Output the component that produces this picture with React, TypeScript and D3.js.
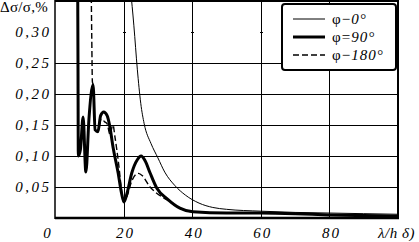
import React, { useEffect, useRef } from "react";
import * as d3 from "d3";

// x = λ/(h δ), y = Δσ/σ, %
const phi0X = [22, 23, 24, 25, 26, 28, 30, 32, 35, 38, 42, 46, 50, 60, 70, 80, 90, 100];
const phi0Y = [0.37, 0.31, 0.24, 0.185, 0.152, 0.12, 0.097, 0.074, 0.052, 0.037, 0.024, 0.017, 0.014, 0.011, 0.009, 0.008, 0.007, 0.006];

const phi90X = [6.6, 6.7, 6.8, 7.4, 8.2, 9.0, 9.9, 11.1, 11.7, 12.5, 13.3, 14.2, 15.2, 16.0, 16.9, 18.4, 19.4, 20.1, 21, 22.4, 24, 25.1, 26.3, 27.7, 29.7, 32.7, 36.4, 40.2, 50, 60, 70, 80, 90, 100];
const phi90Y = [0.4, 0.25, 0.1, 0.11, 0.163, 0.074, 0.16, 0.215, 0.142, 0.139, 0.165, 0.171, 0.165, 0.147, 0.115, 0.073, 0.04, 0.026, 0.04, 0.073, 0.094, 0.1, 0.092, 0.073, 0.048, 0.031, 0.016, 0.01, 0.008, 0.008, 0.007, 0.005, 0.004, 0.003];

const phi180X = [10.5, 10.7, 10.9, 11.1, 11.7, 12.5, 13.5, 14.5, 15.2, 16.0, 16.9, 17.5, 18.6, 19.4, 20.1, 21, 22.4, 24.3, 25.5, 27.7, 29.2, 32.7, 36.4, 40.2, 50, 60, 70, 80, 90, 100];
const phi180Y = [0.4, 0.3, 0.22, 0.215, 0.142, 0.139, 0.16, 0.155, 0.152, 0.135, 0.15, 0.13, 0.085, 0.045, 0.027, 0.035, 0.06, 0.072, 0.068, 0.05, 0.042, 0.029, 0.016, 0.01, 0.008, 0.008, 0.007, 0.005, 0.004, 0.003];

const xTicks = [0, 20, 40, 60, 80];
const yTicks = [0.05, 0.1, 0.15, 0.2, 0.25, 0.3];
const yTickLabels = ["0,05", "0,10", "0,15", "0,20", "0,25", "0,30"];
const legendLabels = ["φ−0°", "φ=90°", "φ−180°"];

const W = 419;
const H = 242;

export default function App() {
  const svgRef = useRef<SVGSVGElement>(null);

  useEffect(() => {
    if (!svgRef.current) return;
    const svg = d3.select(svgRef.current);
    svg.selectAll("*").remove();

    const left = 55, right = 398, top = 1, bottom = 218;
    const x = d3.scaleLinear().domain([0, 100]).range([left, right]);
    const y = d3.scaleLinear().domain([0, 0.35]).range([bottom, top]);

    // grid
    const grid = svg.append("g").attr("stroke", "#000").attr("stroke-width", 1);
    xTicks.filter((t) => t > 0).forEach((t) => {
      grid.append("line")
        .attr("x1", Math.round(x(t)) + 0.5).attr("x2", Math.round(x(t)) + 0.5)
        .attr("y1", top).attr("y2", bottom);
    });
    yTicks.forEach((t) => {
      const yy = Math.round(y(t)) + 0.5;
      if (t < 0.29) {
        grid.append("line").attr("x1", left).attr("x2", right).attr("y1", yy).attr("y2", yy);
      } else {
        // only small crossing marks at 0.30
        xTicks.filter((v) => v > 0).forEach((v) => {
          grid.append("line")
            .attr("x1", Math.round(x(v)) - 1).attr("x2", Math.round(x(v)) + 2)
            .attr("y1", yy).attr("y2", yy);
        });
      }
    });

    // curves
    svg.append("clipPath").attr("id", "plotClip")
      .append("rect").attr("x", left).attr("y", top).attr("width", right - left).attr("height", bottom - top);

    const line = d3.line<[number, number]>()
      .x((d) => x(d[0]))
      .y((d) => y(d[1]))
      .curve(d3.curveMonotoneX);

    const curves = svg.append("g").attr("clip-path", "url(#plotClip)").attr("fill", "none").attr("stroke", "#000");
    curves.append("path")
      .attr("d", line(phi180X.map((v, i) => [v, phi180Y[i]] as [number, number])))
      .attr("stroke-width", 1.4)
      .attr("stroke-dasharray", "6,3");
    curves.append("path")
      .attr("d", line(phi90X.map((v, i) => [v, phi90Y[i]] as [number, number])))
      .attr("stroke-width", 3);
    curves.append("path")
      .attr("d", line(phi0X.map((v, i) => [v, phi0Y[i]] as [number, number])))
      .attr("stroke-width", 1);

    // frame
    svg.append("line").attr("x1", left).attr("x2", left).attr("y1", 0).attr("y2", bottom + 1)
      .attr("stroke", "#000").attr("stroke-width", 1.5);
    svg.append("line").attr("x1", left).attr("x2", right + 1).attr("y1", bottom).attr("y2", bottom)
      .attr("stroke", "#000").attr("stroke-width", 2.5);
    svg.append("line").attr("x1", right).attr("x2", right).attr("y1", 0).attr("y2", bottom)
      .attr("stroke", "#000").attr("stroke-width", 2);
    svg.append("line").attr("x1", left).attr("x2", right + 1).attr("y1", 1).attr("y2", 1)
      .attr("stroke", "#000").attr("stroke-width", 2);

    const font = "Liberation Serif, DejaVu Serif, serif";

    // y tick labels
    yTicks.forEach((t, i) => {
      svg.append("text")
        .attr("x", 51.5).attr("y", Math.round(y(t)) + 5)
        .attr("text-anchor", "end")
        .attr("font-family", font).attr("font-style", "italic")
        .attr("font-size", 15).attr("letter-spacing", 2.5)
        .text(yTickLabels[i]);
    });

    // x tick labels
    xTicks.forEach((t) => {
      svg.append("text")
        .attr("x", (t === 0 ? x(t) - 8 : x(t) + 1) + 1).attr("y", 238)
        .attr("text-anchor", "middle")
        .attr("font-family", font).attr("font-style", "italic")
        .attr("font-size", 15).attr("letter-spacing", 2)
        .text(t);
    });

    svg.append("text")
      .attr("x", 378).attr("y", 238)
      .attr("font-family", font).attr("font-style", "italic")
      .attr("font-size", 15).attr("letter-spacing", 0.5)
      .text("λ/h δ)");

    svg.append("text")
      .attr("x", 0).attr("y", 12)
      .attr("font-family", font)
      .attr("font-size", 15).attr("letter-spacing", 0.3)
      .text("Δσ/σ,%");

    // legend
    const legend = svg.append("g");
    legend.append("rect")
      .attr("x", 282).attr("y", 4).attr("width", 114).attr("height", 66)
      .attr("rx", 3).attr("fill", "#fff").attr("stroke", "#000").attr("stroke-width", 2);
    const styles = [
      { w: 1, dash: null },
      { w: 3, dash: null },
      { w: 1.4, dash: "6,3" },
    ];
    legendLabels.forEach((lab, i) => {
      const ly = 19 + i * 18;
      legend.append("line")
        .attr("x1", 293).attr("x2", 325).attr("y1", ly).attr("y2", ly)
        .attr("stroke", "#000").attr("stroke-width", styles[i].w)
        .attr("stroke-dasharray", styles[i].dash);
      const txt = legend.append("text")
        .attr("x", 332).attr("y", ly + 5)
        .attr("font-family", font).attr("font-size", 15).attr("letter-spacing", 1);
      txt.append("tspan").text(lab.slice(0, 2));
      txt.append("tspan").attr("font-style", "italic").text(lab.slice(2));
    });
  }, []);

  return (
    <div style={{ position: "fixed", left: 0, top: 0, width: W, height: H, background: "#fff" }}>
      <svg ref={svgRef} width={W} height={H} />
    </div>
  );
}
